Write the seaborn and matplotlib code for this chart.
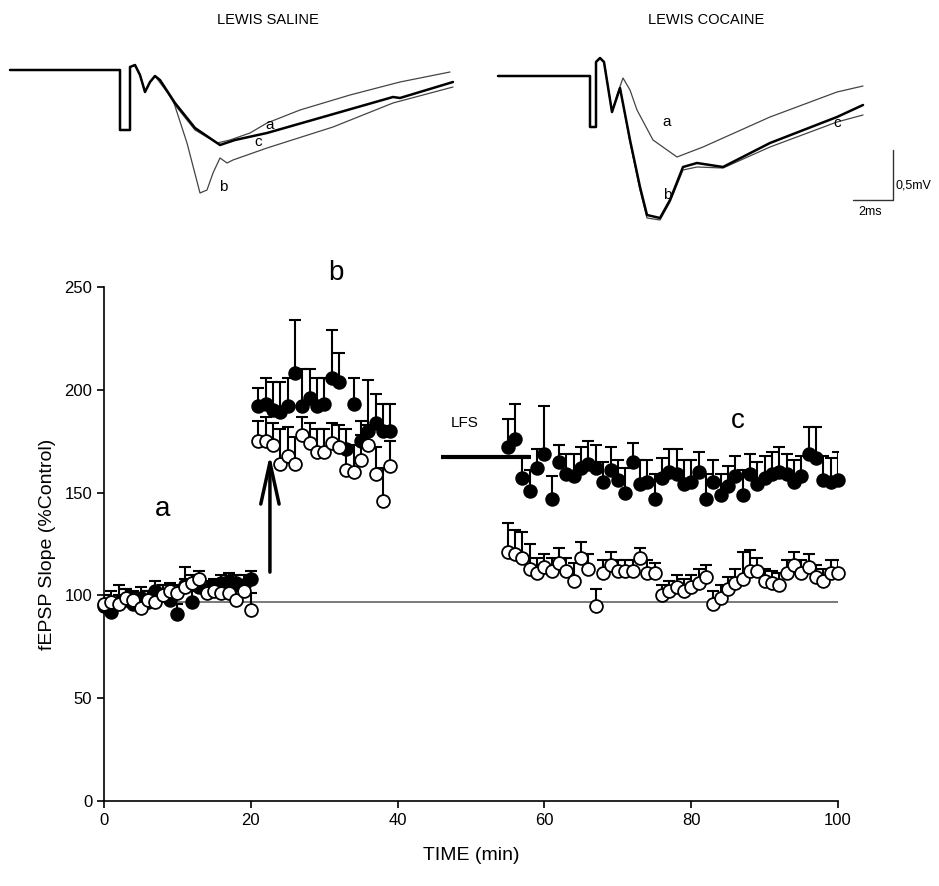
import numpy as np
import matplotlib
matplotlib.use("Agg")
import matplotlib.pyplot as plt
import seaborn as sns

sns.set_style("ticks")
plt.rcParams['font.family'] = ['Liberation Sans', 'DejaVu Sans']
plt.rcParams['text.color'] = 'black'
plt.rcParams['axes.labelcolor'] = 'black'
plt.rcParams['xtick.color'] = 'black'
plt.rcParams['ytick.color'] = 'black'
plt.rcParams['axes.edgecolor'] = 'black'

# ---- fEPSP slope time course (% control), error = SEM (upper bars only)
t_base = list(range(0, 21))
t_post = list(range(21, 40))
t_lfs = list(range(55, 101))

coc_base = [95, 92, 97, 98, 96, 99, 97, 102, 100, 98, 91, 105, 97, 104, 102, 103, 106, 107, 106, 105, 108]
coc_base_err = [5, 5, 8, 5, 5, 5, 5, 5, 5, 5, 5, 9, 5, 5, 5, 5, 4, 4, 4, 5, 4]
sal_base = [96, 97, 96, 99, 98, 94, 98, 97, 100, 102, 101, 104, 106, 108, 101, 102, 101, 101, 98, 102, 93]
sal_base_err = [4, 5, 4, 4, 4, 4, 4, 4, 5, 4, 4, 4, 4, 4, 4, 4, 4, 4, 4, 4, 8]

coc_post = [192, 193, 190, 189, 192, 208, 192, 196, 192, 193, 206, 204, 171, 193, 175, 180, 184, 180, 180]
coc_post_err = [9, 13, 14, 15, 14, 26, 18, 14, 14, 13, 23, 14, 10, 13, 10, 25, 14, 13, 13]
sal_post = [175, 175, 173, 164, 168, 164, 178, 174, 170, 170, 174, 172, 161, 160, 166, 173, 159, 146, 163]
sal_post_err = [10, 12, 11, 17, 14, 13, 9, 10, 11, 11, 10, 11, 12, 13, 12, 10, 13, 16, 12]

coc_lfs = [172, 176, 157, 151, 162, 169, 147, 165, 159, 158, 162, 164, 162, 155, 161, 156,
           150, 165, 154, 155, 147, 157, 160, 159, 154, 155, 160, 147, 155, 149, 153, 158,
           149, 159, 154, 157, 159, 160, 159, 155, 158, 169, 167, 156, 155, 156]
coc_lfs_err = [14, 17, 11, 10, 9, 23, 11, 8, 10, 11, 10, 11, 11, 10, 11, 10, 12, 9, 12, 11,
               12, 10, 11, 12, 12, 11, 10, 12, 11, 10, 10, 10, 12, 10, 11, 11, 11, 12, 10, 11,
               10, 13, 15, 12, 12, 14]
sal_lfs = [121, 120, 118, 113, 111, 114, 112, 116, 112, 107, 118, 113, 95, 111, 115, 112,
           112, 112, 118, 111, 111, 100, 102, 104, 102, 104, 106, 109, 96, 99, 103, 106,
           108, 112, 112, 107, 106, 105, 111, 115, 111, 114, 109, 107, 111, 111]
sal_lfs_err = [14, 12, 13, 12, 7, 6, 6, 7, 6, 9, 8, 7, 8, 6, 6, 5, 5, 5, 5, 6, 5, 5, 5, 6,
               6, 6, 7, 6, 6, 6, 6, 7, 13, 10, 6, 6, 6, 6, 6, 6, 6, 6, 6, 6, 6, 6]

ref_level = 97
hfs_time, hfs_from, hfs_to = 22.6, 110, 170
lfs_start, lfs_end, lfs_level = 45.9, 58.2, 167.3

# ---- example traces (ms, mV relative to baseline)
sal_pre_t = [0, 5.5, 5.5, 6.0, 6.0, 6.25, 6.5, 6.75, 7.0, 7.25]
sal_pre_v = [0, 0, -0.6, -0.6, 0.03, 0.05, -0.05, -0.22, -0.12, -0.06]
sal_a_t = [7.5, 8.25, 9.25, 10.35, 11, 12, 12.85, 14.5, 17, 19.5, 22]
sal_a_v = [-0.1, -0.35, -0.6, -0.73, -0.7, -0.63, -0.53, -0.4, -0.25, -0.12, -0.02]
sal_b_t = [8.15, 8.85, 9.5, 9.85, 10.15, 10.5, 10.85, 11.15, 12.85, 16.15, 19.15, 22.15]
sal_b_v = [-0.3, -0.73, -1.23, -1.2, -1.03, -0.88, -0.93, -0.9, -0.78, -0.57, -0.33, -0.17]
sal_c_t = [7.5, 8.25, 9.25, 10.5, 11.25, 12.85, 16, 19.15, 19.5, 22.15]
sal_c_v = [-0.1, -0.33, -0.58, -0.75, -0.7, -0.63, -0.45, -0.27, -0.28, -0.12]

coc_pre_t = [0, 4.6, 4.6, 4.9, 4.9, 5.1, 5.3, 5.7]
coc_pre_v = [0, 0, -0.51, -0.51, 0.14, 0.18, 0.14, -0.36]
coc_a_t = [5.95, 6.25, 6.6, 6.95, 7.75, 8.95, 10.25, 13.6, 16.95, 18.25]
coc_a_v = [-0.19, -0.02, -0.14, -0.34, -0.64, -0.81, -0.71, -0.41, -0.16, -0.1]
coc_b_t = [6.1, 6.6, 7.1, 7.45, 8.1, 8.6, 9.25, 9.95, 11.25, 13.6, 16.95, 18.25]
coc_b_v = [-0.12, -0.64, -1.11, -1.39, -1.42, -1.24, -0.91, -0.87, -0.91, -0.67, -0.41, -0.29]
coc_c_t = [6.1, 6.6, 7.1, 7.45, 8.1, 8.6, 9.25, 9.95, 11.25, 13.6, 16.95, 18.25]
coc_c_v = [-0.12, -0.66, -1.14, -1.42, -1.44, -1.26, -0.94, -0.91, -0.92, -0.71, -0.46, -0.39]

fig = plt.figure(figsize=(9.39, 8.86), dpi=100)

# ---------------- main time course
ax = fig.add_axes([0.1108, 0.0959, 0.7817, 0.5801])

ax.hlines(ref_level, 0, 100, color='#555555', lw=1.1, zorder=1)

groups = [
    (t_base, coc_base, coc_base_err, sal_base, sal_base_err),
    (t_post, coc_post, coc_post_err, sal_post, sal_post_err),
    (t_lfs, coc_lfs, coc_lfs_err, sal_lfs, sal_lfs_err),
]
for tt, cy, ce, sy, se in groups:
    ax.errorbar(tt, cy, yerr=[np.zeros(len(ce)), ce], fmt='none', ecolor='black',
                elinewidth=1.5, capsize=4, capthick=1.5, zorder=2)
    ax.errorbar(tt, sy, yerr=[np.zeros(len(se)), se], fmt='none', ecolor='black',
                elinewidth=1.5, capsize=4, capthick=1.5, zorder=2)
    sns.scatterplot(x=tt, y=cy, ax=ax, s=85, color='black', edgecolor='black',
                    linewidth=1.2, zorder=3, clip_on=False)
    sns.scatterplot(x=tt, y=sy, ax=ax, s=85, color='white', edgecolor='black',
                    linewidth=1.3, zorder=4, clip_on=False)

ax.annotate('', xy=(hfs_time, hfs_to), xytext=(hfs_time, hfs_from),
            arrowprops=dict(arrowstyle='->, head_length=1.0, head_width=0.22',
                            lw=2.5, color='black', mutation_scale=30))
ax.hlines(lfs_level, lfs_start, lfs_end, color='black', lw=3)
ax.text(49.2, 184, 'LFS', fontsize=11, ha='center', va='center')
ax.text(8.0, 142, 'a', fontsize=20, ha='center', va='center')
ax.text(31.6, 257, 'b', fontsize=20, ha='center', va='center', clip_on=False)
ax.text(86.4, 185, 'c', fontsize=20, ha='center', va='center')

ax.set_xlim(0, 100)
ax.set_ylim(0, 250)
ax.set_xticks([0, 20, 40, 60, 80, 100])
ax.set_yticks([0, 50, 100, 150, 200, 250])
ax.tick_params(labelsize=12, length=5, width=1.2, direction='out')
ax.set_xlabel('TIME (min)', fontsize=14, labelpad=14)
ax.set_ylabel('fEPSP Slope (%Control)', fontsize=14, labelpad=6)
for s in ['left', 'bottom']:
    ax.spines[s].set_linewidth(1.2)
sns.despine(ax=ax)

# ---------------- example traces
axl = fig.add_axes([0.0, 1 - 230 / 886, 470 / 939, 190 / 886])
axl.set_xlim(-0.5, 23)
axl.set_ylim(-1.6, 0.3)
axl.plot(sal_pre_t + sal_a_t, sal_pre_v + sal_a_v, color='#444444', lw=0.9)
axl.plot(sal_pre_t + sal_b_t, sal_pre_v + sal_b_v, color='#444444', lw=0.9)
axl.plot(sal_pre_t + sal_c_t, sal_pre_v + sal_c_v, color='black', lw=1.8)
axl.text(13.0, -0.55, 'a', fontsize=11, ha='center', va='center')
axl.text(12.4, -0.72, 'c', fontsize=11, ha='center', va='center')
axl.text(10.65, -1.17, 'b', fontsize=11, ha='center', va='center')
axl.axis('off')

axr = fig.add_axes([480 / 939, 1 - 230 / 886, 459 / 939, 190 / 886])
axr.set_xlim(-0.9, 22.05)
axr.set_ylim(-1.54, 0.36)
axr.plot(coc_pre_t + coc_a_t, coc_pre_v + coc_a_v, color='#444444', lw=0.9)
axr.plot(coc_pre_t + coc_c_t, coc_pre_v + coc_c_v, color='#444444', lw=0.9)
axr.plot(coc_pre_t + coc_b_t, coc_pre_v + coc_b_v, color='black', lw=1.8)
axr.text(8.45, -0.46, 'a', fontsize=11, ha='center', va='center')
axr.text(8.45, -1.19, 'b', fontsize=11, ha='center', va='center')
axr.text(16.95, -0.47, 'c', fontsize=11, ha='center', va='center')
# scale bar: 2 ms x 0.5 mV
axr.plot([17.75, 19.75, 19.75], [-1.24, -1.24, -0.74], color='#333333', lw=1)
axr.text(19.85, -1.09, '0,5mV', fontsize=9, ha='left', va='center')
axr.text(18.6, -1.36, '2ms', fontsize=9, ha='center', va='center')
axr.axis('off')

fig.text(268 / 939, 1 - 20 / 886, 'LEWIS SALINE', fontsize=10.5, ha='center', va='center')
fig.text(706 / 939, 1 - 20 / 886, 'LEWIS COCAINE', fontsize=10.5, ha='center', va='center')

fig.savefig('out.png', dpi=100)
